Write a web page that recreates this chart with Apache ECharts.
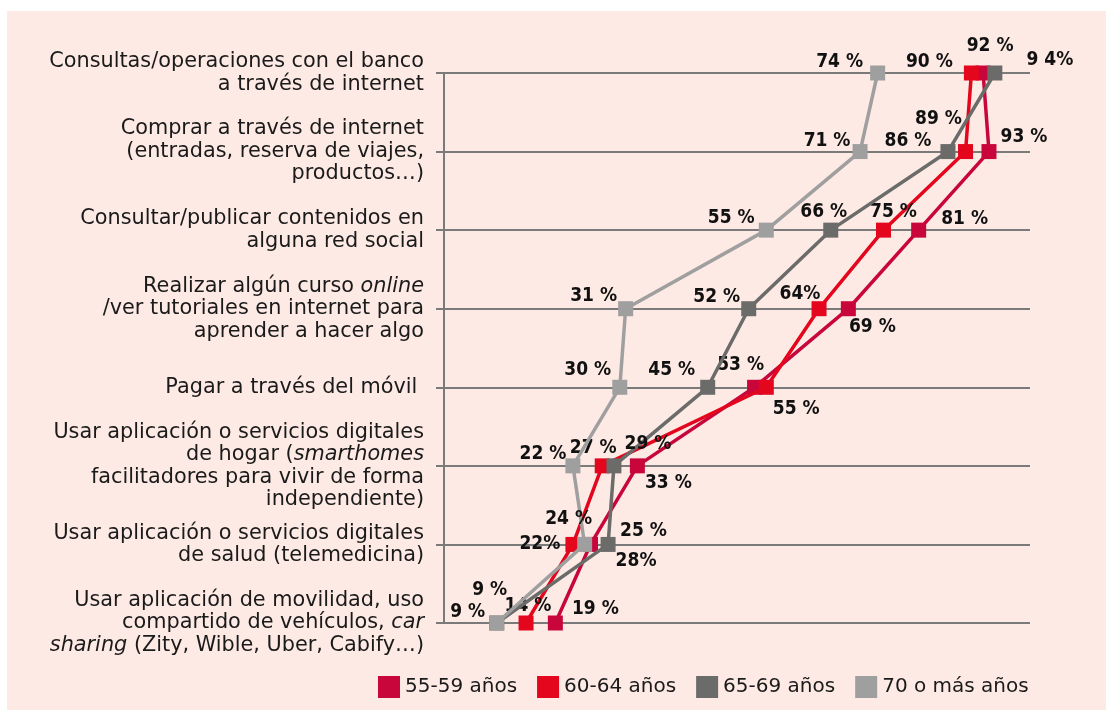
<!DOCTYPE html>
<html>
<head>
<meta charset="utf-8">
<script src="https://cdn.jsdelivr.net/npm/echarts@6/dist/echarts.min.js"></script>
<style>
    html, body { margin: 0; padding: 0; background: #fff; }
    #bg { position: absolute; left: 7px; top: 11px; right: 0; bottom: 0; background: #fdeae4; }
    #main { position: absolute; left: 0; top: 0; width: 1106px; height: 710px; }
</style>
</head>
<body>
<div id="bg"></div>
<div id="main"></div>
<script>
// categorias (de arriba a abajo)
var categories = [
    'Consultas/operaciones con el banco\na través de internet',
    'Comprar a través de internet\n(entradas, reserva de viajes,\nproductos…)',
    'Consultar/publicar contenidos en\nalguna red social',
    'Realizar algún curso {i|online}\n/ver tutoriales en internet para\naprender a hacer algo',
    'Pagar a través del móvil ',
    'Usar aplicación o servicios digitales\nde hogar ({i|smarthomes}\nfacilitadores para vivir de forma\nindependiente)',
    'Usar aplicación o servicios digitales\nde salud (telemedicina)',
    'Usar aplicación de movilidad, uso\ncompartido de vehículos, {i|car}\n{i|sharing} (Zity, Wible, Uber, Cabify…)'
];

var seriesNames = ['55-59 años', '60-64 años', '65-69 años', '70 o más años'];
var seriesColors = ['#c8063c', '#e3061d', '#6b6b6a', '#a09f9f'];

// porcentajes
var v5559 = [92, 93, 81, 69, 53, 33, 25, 19];
var v6064 = [90, 89, 75, 64, 55, 27, 22, 14];
var v6569 = [94, 86, 66, 52, 45, 29, 28, 9];
var v70 = [74, 71, 55, 31, 30, 22, 24, 9];

// textos de etiqueta tal como aparecen
var t5559 = ['92 %', '93 %', '81 %', '69 %', '53 %', '33 %', '25 %', '19 %'];
var t6064 = ['90 %', '89 %', '75 %', '64%', '55 %', '27 %', '22%', '14 %'];
var t6569 = ['9 4%', '86 %', '66 %', '52 %', '45 %', '29 %', '28%', '9 %'];
var t70 = ['74 %', '71 %', '55 %', '31 %', '30 %', '22 %', '24 %', '9 %'];

// desplazamiento de cada etiqueta respecto al punto
var off5559 = [[7, -27], [35, -15], [46, -11], [24, 18], [-14, -22], [31, 17], [53, -13], [40, -14]];
var off6064 = [[-42, -11], [-27, -33], [10, -18], [-19, -15], [30, 22], [-9, -18], [-33, 0], [2, -17]];
var off6569 = [[55, -13], [-40, -11], [-7, -18], [-32, -12], [-36, -17], [34, -22], [28, 17], [-7, -33]];
var off70 = [[-38, -11], [-33, -11], [-35, -12], [-32, -13], [-32, -17], [-30, -12], [-16, -25], [-29, -11]];

var allValues = [v5559, v6064, v6569, v70];
var allTexts = [t5559, t6064, t6569, t70];
var allOffsets = [off5559, off6064, off6569, off70];

var fontFam = "'DejaVu Sans Condensed', Roboto, sans-serif";
var catFont = "'DejaVu Sans', sans-serif";

var mychart = echarts.init(document.getElementById('main'));

var series = [];
for (var s = 0; s < seriesNames.length; s++) {
    (function(s) {
        series.push({
            name: seriesNames[s],
            type: 'line',
            symbol: 'rect',
            symbolSize: 15,
            showAllSymbol: true,
            lineStyle: { color: seriesColors[s], width: 3.5 },
            itemStyle: { color: seriesColors[s] },
            z: 2 + s,
            label: {
                show: true,
                position: 'inside',
                align: 'center',
                verticalAlign: 'middle',
                color: '#111',
                fontWeight: 'bold',
                fontSize: 19,
                fontFamily: fontFam,
                formatter: function(p) {
                    return allTexts[s][p.dataIndex];
                }
            },
            emphasis: { disabled: true },
            data: allValues[s].map(function(v, i) {
                return {
                    value: [v, i],
                    label: { offset: allOffsets[s][i] }
                };
            })
        });
    })(s);
}

var option = {
    backgroundColor: 'transparent',
    animation: false,
    legend: {
        left: 373,
        top: 671,
        itemWidth: 22,
        itemHeight: 22,
        itemGap: 20,
        icon: 'rect',
        textStyle: { fontSize: 20, color: '#1a1a1a', fontFamily: catFont },
        data: seriesNames.map(function(n, i) {
            return { name: n, itemStyle: { color: seriesColors[i] } };
        })
    },
    grid: { left: 444, right: 76, top: 73, bottom: 87, containLabel: false },
    xAxis: {
        type: 'value',
        min: 0,
        max: 100,
        show: false
    },
    yAxis: {
        type: 'category',
        inverse: true,
        boundaryGap: false,
        data: categories,
        axisLine: { show: true, lineStyle: { color: '#7a7a7a', width: 2 } },
        axisTick: { show: true, length: 8, lineStyle: { color: '#7a7a7a', width: 2 } },
        splitLine: { show: true, lineStyle: { color: '#7a7a7a', width: 2 } },
        axisLabel: {
            margin: 20,
            fontSize: 20.8,
            lineHeight: 22.5,
            color: '#1a1a1a',
            fontFamily: catFont,
            align: 'right',
            rich: {
                i: { fontStyle: 'italic', fontSize: 20.8, lineHeight: 22.5, color: '#1a1a1a', fontFamily: catFont }
            }
        }
    },
    series: series
};

mychart.setOption(option);
</script>
</body>
</html>
